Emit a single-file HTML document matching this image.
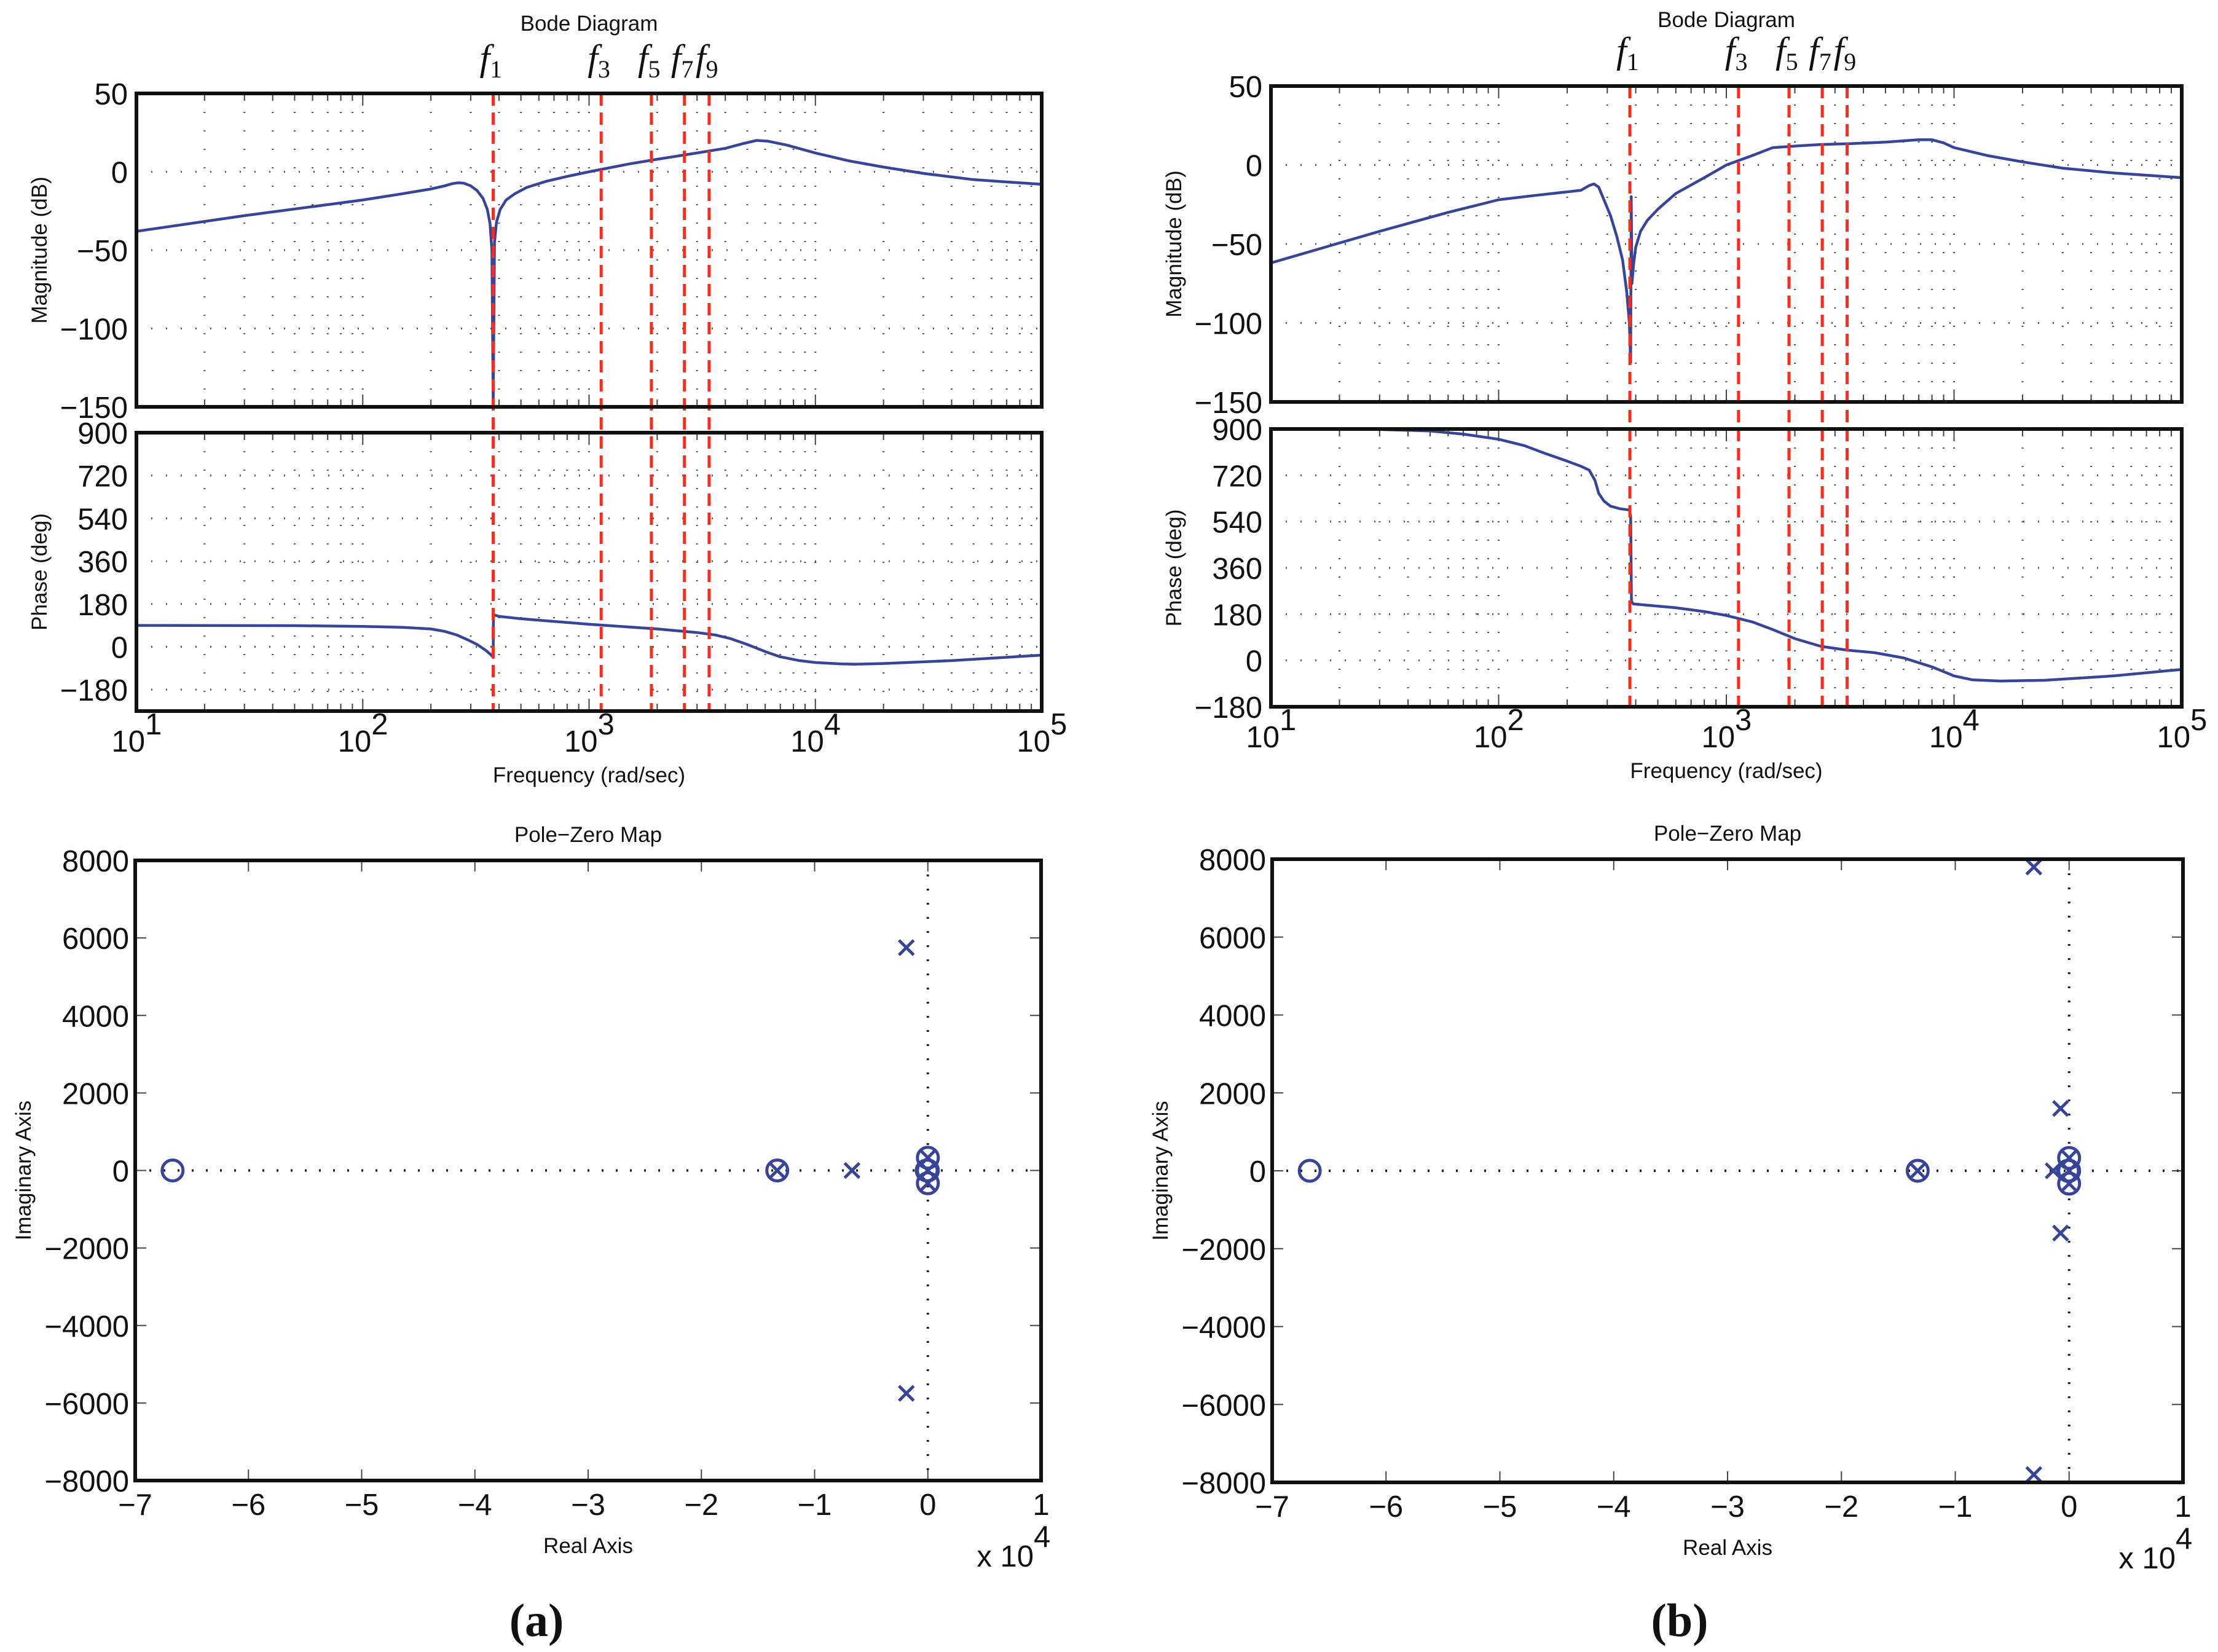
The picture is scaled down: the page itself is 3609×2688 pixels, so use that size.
<!DOCTYPE html>
<html><head><meta charset="utf-8"><style>
html,body{margin:0;padding:0;background:#fff;}
svg{display:block;}
.tk{font-family:"Liberation Sans",sans-serif;font-size:49px;fill:#111;}
.lb{font-family:"Liberation Sans",sans-serif;font-size:35px;fill:#111;}
.fl{font-family:"Liberation Serif",serif;font-style:italic;font-size:60px;fill:#111;}
.fs{font-family:"Liberation Serif",serif;font-size:40px;fill:#111;}
.cap{font-family:"Liberation Serif",serif;font-size:76px;fill:#111;}
</style></head><body>
<svg id="fig" width="3609" height="2688" viewBox="0 0 3609 2688" xmlns="http://www.w3.org/2000/svg">
<rect width="3609" height="2688" fill="#fff"/>
</svg>
<script>
// ---- data ----
const harmonicLabels = ["1","3","5","7","9"];
const harmonicFreqs = [377, 1131, 1885, 2639, 3393];
const freqA = [10,30,100,150,200,230,250,265,280,300,320,340,355,365,372,377,382,390,405,430,470,530,650,800,1000,1500,2000,3000,4000,4800,5500,6200,7500,10000,14000,20000,30000,50000,100000];
const magA  = [-38,-28,-18,-14,-11,-9,-7.5,-7,-7.3,-9,-12,-17,-24,-33,-50,-150,-45,-32,-24,-18,-14,-10,-6,-3,0,5,8,12,15,18,20,19.5,17,12,7,3,-1,-5,-8];
const phFreqA = [10,50,100,150,200,230,260,290,320,350,370,377,378,400,500,1000,2000,3000,3600,4200,5000,6000,7000,8500,10000,13000,15000,20000,40000,100000];
const phaseA  = [90,89,86,82,75,65,50,30,10,-15,-35,-45,135,128,118,95,75,60,50,35,10,-20,-42,-58,-66,-72,-73,-70,-58,-35];
const freqB = [10,30,60,100,150,200,230,250,262,275,290,310,330,350,365,375,380,382,385,392,400,420,450,500,600,800,1000,1300,1600,2000,2600,3500,5000,7000,8000,9000,10000,14000,20000,30000,50000,100000];
const magB  = [-62,-42,-30,-22,-19,-17,-16,-13,-12,-14,-22,-32,-45,-60,-80,-100,-125,-20,-75,-62,-52,-42,-35,-28,-18,-8,0,6,11,12,13,13.5,14.5,16,16,14,11,6,2,-2,-5,-8];
const phFreqB = [10,30,50,70,100,130,160,200,230,250,265,275,290,310,340,375,380,383,390,450,600,800,1000,1300,1600,2000,2600,3400,4500,6000,8000,10000,12000,16000,25000,50000,100000];
const phaseB  = [900,898,892,880,860,835,805,775,755,740,700,650,620,600,590,585,560,230,220,215,205,190,175,150,120,85,55,40,30,10,-25,-60,-75,-80,-77,-60,-35];
const realTicks = ["\u22127","\u22126","\u22125","\u22124","\u22123","\u22122","\u22121","0","1"];
const imagTicks = ["8000","6000","4000","2000","0","\u22122000","\u22124000","\u22126000","\u22128000"];
const zerosA_re = [-66700,-13300,0,0,0,-100];
const zerosA_im = [0,0,330,-330,0,0];
const polesA_re = [-13300,-6700,-1900,-1900,0,0,0];
const polesA_im = [0,0,5750,-5750,330,-330,0];
const zerosB_re = [-66700,-13300,0,0,0,-100];
const zerosB_im = [0,0,330,-330,0,0];
const polesB_re = [-13300,-3100,-3100,-750,-750,-1400,0,0,0];
const polesB_im = [0,7800,-7800,1600,-1600,0,330,-330,0];

const NS="http://www.w3.org/2000/svg";
const svg=document.getElementById('fig');
const BLUE="#36449a";
function mk(tag,attrs,parent){const e=document.createElementNS(NS,tag);for(const k in attrs)e.setAttribute(k,attrs[k]);(parent||svg).appendChild(e);return e;}
function txt(s,x,y,cls,anchor,parent){
  const t=mk('text',{x:x,y:y,class:cls,'text-anchor':anchor||'middle'},parent);
  t.textContent=s;return t;}
function rtxt(s,x,y,cls,parent){
  const t=mk('text',{x:0,y:0,class:cls,'text-anchor':'middle',transform:`translate(${x},${y}) rotate(-90)`},parent);
  t.textContent=s;return t;}

function bode(L,R,magT,magB_,phT,phB,phMin,freqs,mags,pf,ph,suffix,titleY){
  const g=mk('g',{});
  
  
  const lx=f=>L+(Math.log10(f)-1)/4*(R-L);
  const my=v=>magT+(50-v)/200*(magB_-magT);
  const py=v=>phT+(900-v)/(900-phMin)*(phB-phT);
  const title=txt('Bode Diagram',(L+R)/2,titleY,'lb','middle',g);
  
  
  [[magT,magB_],[phT,phB]].forEach(([t,b])=>{
    for(let d=1;d<5;d++)for(let m=1;m<10;m++){const x=lx(m*Math.pow(10,d));
      if(x>L+2&&x<R-2){mk('line',{x1:x,y1:t,x2:x,y2:b,stroke:'#555','stroke-width':3,'stroke-dasharray':'2 28'},g);
      mk('line',{x1:x,y1:b,x2:x,y2:b-(m==1?20:12),stroke:'#444','stroke-width':2},g);mk('line',{x1:x,y1:t,x2:x,y2:t+(m==1?20:12),stroke:'#444','stroke-width':2},g);}
    }
  });
  [50,0,-50,-100,-150].forEach(v=>{const y=my(v);
    if(v<50&&v>-150)mk('line',{x1:L,y1:y,x2:R,y2:y,stroke:'#555','stroke-width':3,'stroke-dasharray':'2 22'},g);
    txt(String(v).replace('-','\u2212'),L-14,y+18,'tk','end',g);});
  [900,720,540,360,180,0,-180].forEach(v=>{const y=py(v);
    if(v<900&&y<phB-2)mk('line',{x1:L,y1:y,x2:R,y2:y,stroke:'#555','stroke-width':3,'stroke-dasharray':'2 22'},g);
    txt(String(v).replace('-','\u2212'),L-14,y+18,'tk','end',g);});
  const yl1=rtxt('Magnitude (dB)',L-146,(magT+magB_)/2,'lb',g);
  
  
  const yl2=rtxt('Phase (deg)',L-146,(phT+phB)/2,'lb',g);
  
  
  for(let d=1;d<=5;d++){const x=lx(Math.pow(10,d));
    txt('10',x+14,phB+66,'tk','end',g);
    txt(String(d),x+14,phB+38,'tk','start',g);}
  const xl=txt('Frequency  (rad/sec)',(L+R)/2,phB+116,'lb','middle',g);
  
  
  let d='';freqs.forEach((f,i)=>{d+=(i?'L':'M')+lx(f).toFixed(1)+','+my(mags[i]).toFixed(1);});
  const c1=mk('path',{d:d,fill:'none',stroke:BLUE,'stroke-width':4.5,'stroke-linejoin':'round'},g);
  
  
  d='';pf.forEach((f,i)=>{d+=(i?'L':'M')+lx(f).toFixed(1)+','+py(ph[i]).toFixed(1);});
  const c2=mk('path',{d:d,fill:'none',stroke:BLUE,'stroke-width':4.5,'stroke-linejoin':'round'},g);
  
  
  harmonicFreqs.forEach((f,i)=>{const x=lx(f);
    const ln=mk('line',{x1:x,y1:magT,x2:x,y2:phB,stroke:'#ff2a1a','stroke-width':5,'stroke-dasharray':'20 11'},g);
    
    
    const t=mk('text',{x:x-22,y:magT-38,class:'fl','text-anchor':'start'},g);
    t.textContent='f';
    const s=mk('tspan',{class:'fs',dy:12,'font-style':'normal'},t);s.textContent=harmonicLabels[i];
    
    
  });
  mk('rect',{x:L,y:magT,width:R-L,height:magB_-magT,fill:'none',stroke:'#111','stroke-width':6},g);
  mk('rect',{x:L,y:phT,width:R-L,height:phB-phT,fill:'none',stroke:'#111','stroke-width':6},g);
}

function pz(L,R,T,B,zr,zi,pr,pi,suffix){
  const g=mk('g',{});
  
  
  const sx=v=>L+(v+70000)/80000*(R-L);
  const sy=v=>T+(8000-v)/16000*(B-T);
  const title=txt('Pole\u2212Zero Map',(L+R)/2,T-30,'lb','middle',g);
  
  
  mk('line',{x1:L,y1:sy(0),x2:R,y2:sy(0),stroke:'#222','stroke-width':4,'stroke-dasharray':'3 20'},g);
  mk('line',{x1:sx(0),y1:T,x2:sx(0),y2:B,stroke:'#222','stroke-width':4,'stroke-dasharray':'3 20'},g);
  realTicks.forEach((s,i)=>{const x=L+i/8*(R-L);
    mk('line',{x1:x,y1:B,x2:x,y2:B-18,stroke:'#444','stroke-width':2},g);
    mk('line',{x1:x,y1:T,x2:x,y2:T+18,stroke:'#444','stroke-width':2},g);
    txt(s,x,B+56,'tk','middle',g);});
  imagTicks.forEach((s,i)=>{const y=T+i/8*(B-T);
    mk('line',{x1:L,y1:y,x2:L+18,y2:y,stroke:'#444','stroke-width':2},g);
    mk('line',{x1:R,y1:y,x2:R-18,y2:y,stroke:'#444','stroke-width':2},g);
    txt(s,L-10,y+18,'tk','end',g);});
  const xl=txt('Real Axis',(L+R)/2,B+118,'lb','middle',g);
  
  
  txt('x 10',R-12,B+140,'tk','end',g);
  txt('4',R-12,B+108,'tk','start',g);
  const yl=rtxt('Imaginary Axis',L-170,(T+B)/2,'lb',g);
  
  
  zr.forEach((r,i)=>{const c=mk('circle',{cx:sx(r),cy:sy(zi[i]),r:17,fill:'none',stroke:BLUE,'stroke-width':5},g);
    
    });
  pr.forEach((r,i)=>{const x=sx(r),y=sy(pi[i]),h=12;
    const p=mk('path',{d:`M${x-h},${y-h}L${x+h},${y+h}M${x-h},${y+h}L${x+h},${y-h}`,stroke:BLUE,'stroke-width':5,fill:'none'},g);
    
    });
  mk('rect',{x:L,y:T,width:R-L,height:B-T,fill:'none',stroke:'#111','stroke-width':6},g);
}

bode(222,1695,152,662,704,1157,-270,freqA,magA,phFreqA,phaseA,'a',50);
bode(2068,3550,140,654,698,1150,-180,freqB,magB,phFreqB,phaseB,'b',44);
pz(220,1694,1400,2409,zerosA_re,zerosA_im,polesA_re,polesA_im,'a');
pz(2070,3552,1398,2412,zerosB_re,zerosB_im,polesB_re,polesB_im,'b');
const ca=mk('text',{x:873,y:2662,class:'cap','text-anchor':'middle','font-weight':'bold'});
ca.textContent='(a)';


const cb=mk('text',{x:2733,y:2662,class:'cap','text-anchor':'middle','font-weight':'bold'});
cb.textContent='(b)';


</script>
</body></html>
